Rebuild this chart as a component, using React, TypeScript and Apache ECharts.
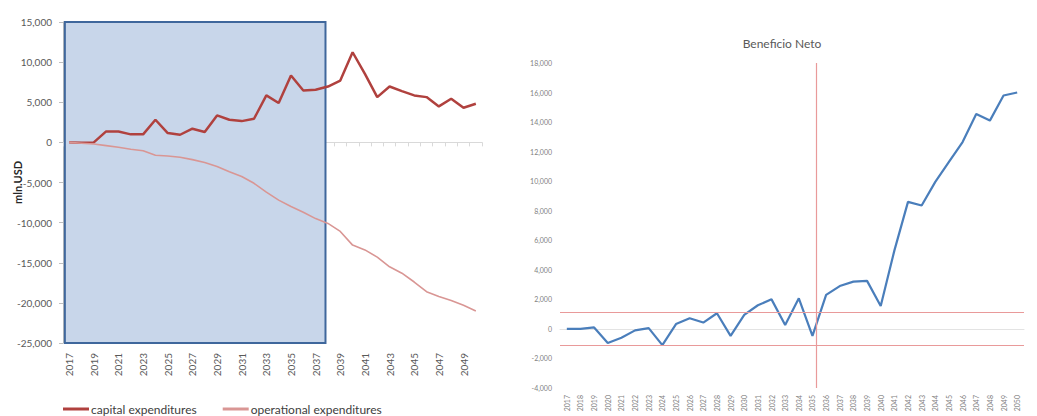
import React, { useEffect, useRef } from "react";
import * as echarts from "echarts";

const years = [
  "2017","2018","2019","2020","2021","2022","2023","2024","2025","2026","2027","2028",
  "2029","2030","2031","2032","2033","2034","2035","2036","2037","2038","2039","2040",
  "2041","2042","2043","2044","2045","2046","2047","2048","2049","2050",
];

const capitalExpenditures = [
  0, -50, 0, 1370, 1350, 1000, 1000, 2820, 1160, 950, 1700, 1290, 3360, 2820, 2650, 2940,
  5850, 4900, 8330, 6470, 6550, 6960, 7710, 11230, 8540, 5640, 6960, 6380, 5850, 5640,
  4480, 5430, 4310, 4810,
];

const operationalExpenditures = [
  0, -100, -200, -400, -600, -850, -1050, -1600, -1700, -1850, -2150, -2500, -3000, -3650,
  -4250, -5100, -6200, -7200, -8000, -8700, -9500, -10100, -11100, -12800, -13400, -14300,
  -15500, -16300, -17400, -18600, -19200, -19700, -20300, -21000,
];

const beneficioNeto = [
  0, 0, 100, -950, -600, -100, 50, -1100, 330, 720, 430, 1060, -470, 950, 1600, 2000, 270,
  2070, -470, 2300, 2900, 3200, 3250, 1550, 5300, 8600, 8350, 9950, 11300, 12650, 14550,
  14100, 15800, 16000,
];

// shaded period (left chart) and reference lines (right chart), in category-index units
const shadedStart = -0.35;
const shadedEnd = 20.8; // ~2038
const bandUpper = 1100;
const bandLower = -1100;
const splitYearIndex = 18.3; // just after 2035

const FONT = "Lato, 'Liberation Sans', sans-serif";
const REF_RED = "#e99a9a";

export default function App() {
  const ref = useRef<HTMLDivElement>(null);
  useEffect(() => {
    if (!ref.current) return;
    const chart = echarts.init(ref.current, null, { renderer: "svg" });
    const n = years.length;
    chart.setOption({
      animation: false,
      textStyle: { fontFamily: FONT },
      title: {
        text: "Beneficio Neto",
        left: 777,
        top: 32,
        textAlign: "center",
        textStyle: { fontSize: 12, fontWeight: "normal", color: "#595959", fontFamily: FONT },
      },
      legend: {
        left: 58,
        top: 398,
        icon: "rect",
        itemWidth: 26,
        itemHeight: 3,
        itemGap: 26,
        textStyle: { fontSize: 12, color: "#404040", fontFamily: FONT, padding: [0, 0, 0, -3] },
        data: ["capital expenditures", "operational expenditures"],
      },
      grid: [
        { left: 63, top: 22, width: 419, height: 321 },
        { left: 560, top: 63, width: 464, height: 325 },
      ],
      xAxis: [
        {
          gridIndex: 0,
          type: "category",
          data: years,
          boundaryGap: true,
          position: "bottom",
          axisLine: { onZero: true, lineStyle: { color: "#d9d9d9", width: 1 } },
          axisTick: { show: true, interval: 0, length: 4, lineStyle: { color: "#d9d9d9" } },
          axisLabel: { show: false },
        },
        {
          gridIndex: 0,
          type: "category",
          data: years,
          boundaryGap: true,
          position: "bottom",
          axisLine: { show: false, onZero: false },
          axisTick: { show: false },
          axisLabel: { interval: 1, rotate: 90, fontSize: 10, color: "#595959", margin: 10, fontFamily: FONT },
        },
        {
          gridIndex: 1,
          type: "category",
          data: years,
          boundaryGap: true,
          position: "bottom",
          axisLine: { onZero: true, lineStyle: { color: "#e3e3e3", width: 1 } },
          axisTick: { show: false },
          axisLabel: { show: false },
        },
        {
          gridIndex: 1,
          type: "category",
          data: years,
          boundaryGap: true,
          position: "bottom",
          axisLine: { show: false, onZero: false },
          axisTick: { show: false },
          axisLabel: { interval: 0, rotate: 90, fontSize: 7, color: "#7f7f7f", margin: 7, fontFamily: FONT },
        },
        {
          gridIndex: 0,
          type: "value",
          min: -0.5,
          max: n - 0.5,
          show: false,
          position: "top",
          axisLine: { onZero: false },
          splitLine: { show: false },
        },
        {
          gridIndex: 1,
          type: "value",
          min: -0.5,
          max: n - 0.5,
          show: false,
          position: "top",
          axisLine: { onZero: false },
          splitLine: { show: false },
        },
      ],
      yAxis: [
        {
          gridIndex: 0,
          type: "value",
          min: -25000,
          max: 15000,
          interval: 5000,
          name: "mln.USD",
          nameLocation: "middle",
          nameGap: 40,
          nameMoveOverlap: false,
          nameTextStyle: { fontSize: 11, fontWeight: "bold", color: "#262626", fontFamily: FONT },
          axisLine: { show: true, onZero: false, lineStyle: { color: "#bfbfbf" } },
          axisTick: { show: true, length: 4, lineStyle: { color: "#bfbfbf" } },
          axisLabel: { fontSize: 10, color: "#595959", margin: 11, fontFamily: FONT },
          splitLine: { show: false },
        },
        {
          gridIndex: 1,
          type: "value",
          min: -4000,
          max: 18000,
          interval: 2000,
          axisLine: { show: false, onZero: false },
          axisTick: { show: false },
          axisLabel: { fontSize: 7, color: "#7f7f7f", margin: 8, fontFamily: FONT },
          splitLine: { show: false },
        },
      ],
      series: [
        {
          name: "shaded",
          type: "line",
          xAxisIndex: 4,
          yAxisIndex: 0,
          data: [],
          symbol: "none",
          silent: true,
          z: 1,
          markArea: {
            silent: true,
            itemStyle: { color: "#c8d6ea", borderColor: "#3f679c", borderWidth: 2 },
            data: [[{ xAxis: shadedStart, yAxis: 15000 }, { xAxis: shadedEnd, yAxis: -25000 }]],
          },
        },
        {
          name: "capital expenditures",
          type: "line",
          xAxisIndex: 0,
          yAxisIndex: 0,
          data: capitalExpenditures,
          symbol: "none",
          lineStyle: { color: "#b0413e", width: 2.5 },
          itemStyle: { color: "#b0413e" },
          z: 3,
        },
        {
          name: "operational expenditures",
          type: "line",
          xAxisIndex: 0,
          yAxisIndex: 0,
          data: operationalExpenditures,
          symbol: "none",
          lineStyle: { color: "#d99694", width: 1.6 },
          itemStyle: { color: "#d99694" },
          z: 3,
        },
        {
          name: "Beneficio Neto",
          type: "line",
          xAxisIndex: 2,
          yAxisIndex: 1,
          data: beneficioNeto,
          symbol: "none",
          lineStyle: { color: "#4a7ebb", width: 2.2 },
          itemStyle: { color: "#4a7ebb" },
          z: 3,
          markLine: {
            silent: true,
            symbol: "none",
            label: { show: false },
            lineStyle: { color: REF_RED, width: 1, type: "solid" },
            data: [{ yAxis: bandUpper }, { yAxis: bandLower }],
          },
        },
        {
          name: "split",
          type: "line",
          xAxisIndex: 5,
          yAxisIndex: 1,
          data: [],
          symbol: "none",
          silent: true,
          color: REF_RED,
          itemStyle: { color: REF_RED },
          lineStyle: { color: REF_RED },
          z: 2,
          markLine: {
            silent: true,
            symbol: "none",
            label: { show: false },
            lineStyle: { color: REF_RED, width: 1.2, type: "solid", opacity: 1 },
            data: [{ xAxis: splitYearIndex, lineStyle: { color: REF_RED, width: 1.2, type: "solid", opacity: 1 } }],
          },
        },
      ],
    });
    return () => chart.dispose();
  }, []);
  return <div ref={ref} style={{ width: 1037, height: 416, position: "absolute", left: 0, top: 0 }} />;
}
